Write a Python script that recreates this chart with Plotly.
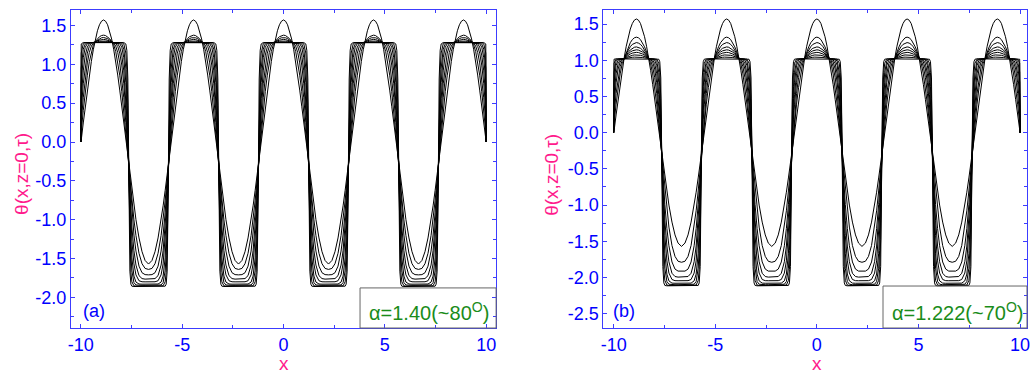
import plotly.graph_objects as go

# Profile abscissae: distance from a crest, from the crest (0) to the trough (2.22)
offsets = [0.0, 0.1, 0.2, 0.3, 0.4, 0.5, 0.6, 0.7, 0.8, 0.9, 1.0, 1.1, 1.15, 1.2,
           1.25, 1.3, 1.35, 1.4, 1.5, 1.6, 1.75, 1.9, 2.05, 2.22]
# Crest positions along x
peaks_x = [-8.88, -4.44, 0.0, 4.44, 8.88]
# Boundary values of theta at both walls
edge_x = [-10.0, 10.0]
edge_theta = [0.0, 0.0]

# Panel (a): alpha = 1.40, successive time snapshots of theta over one half period
theta_a = [
    [1.571, 1.555, 1.509, 1.432, 1.326, 1.194, 1.038, 0.862, 0.668, 0.461, 0.245, 0.024, -0.087, -0.198,
     -0.307, -0.416, -0.521, -0.625, -0.822, -1.000, -1.235, -1.412, -1.525, -1.571],
    [1.375, 1.370, 1.355, 1.330, 1.295, 1.253, 1.166, 1.034, 0.860, 0.648, 0.404, 0.131, -0.014, -0.163,
     -0.315, -0.472, -0.618, -0.757, -1.003, -1.204, -1.433, -1.567, -1.627, -1.640],
    [1.345, 1.341, 1.331, 1.314, 1.290, 1.274, 1.235, 1.153, 1.018, 0.823, 0.569, 0.252, 0.072, -0.120,
     -0.326, -0.544, -0.736, -0.912, -1.197, -1.404, -1.598, -1.683, -1.707, -1.710],
    [1.320, 1.318, 1.311, 1.301, 1.286, 1.279, 1.268, 1.230, 1.144, 0.990, 0.749, 0.401, 0.183, -0.062,
     -0.340, -0.638, -0.885, -1.094, -1.399, -1.584, -1.720, -1.758, -1.765, -1.765],
    [1.300, 1.299, 1.296, 1.290, 1.283, 1.280, 1.278, 1.265, 1.222, 1.119, 0.915, 0.561, 0.312, 0.009,
     -0.359, -0.749, -1.046, -1.277, -1.569, -1.710, -1.786, -1.799, -1.800, -1.800],
    [1.290, 1.289, 1.288, 1.285, 1.282, 1.280, 1.280, 1.278, 1.266, 1.219, 1.085, 0.766, 0.493, 0.119,
     -0.390, -0.913, -1.259, -1.492, -1.725, -1.803, -1.828, -1.830, -1.830, -1.830],
    [1.285, 1.285, 1.284, 1.283, 1.281, 1.280, 1.280, 1.280, 1.278, 1.263, 1.195, 0.951, 0.683, 0.251,
     -0.429, -1.092, -1.458, -1.659, -1.809, -1.840, -1.845, -1.845, -1.845, -1.845],
    [1.280, 1.280, 1.280, 1.280, 1.280, 1.280, 1.280, 1.280, 1.280, 1.279, 1.264, 1.145, 0.936, 0.472,
     -0.504, -1.354, -1.679, -1.799, -1.851, -1.855, -1.855, -1.855, -1.855, -1.855],
    [1.280, 1.280, 1.280, 1.280, 1.280, 1.280, 1.280, 1.280, 1.280, 1.280, 1.280, 1.262, 1.181, 0.811,
     -0.659, -1.662, -1.830, -1.856, -1.860, -1.860, -1.860, -1.860, -1.860, -1.860],
]

# Panel (b): alpha = 1.222
theta_b = [
    [1.571, 1.555, 1.509, 1.432, 1.326, 1.194, 1.038, 0.862, 0.668, 0.461, 0.245, 0.024, -0.087, -0.198,
     -0.307, -0.416, -0.521, -0.625, -0.822, -1.000, -1.235, -1.412, -1.525, -1.571],
    [1.320, 1.311, 1.286, 1.244, 1.186, 1.115, 1.030, 0.952, 0.812, 0.624, 0.394, 0.130, -0.012, -0.159,
     -0.311, -0.487, -0.650, -0.805, -1.079, -1.304, -1.559, -1.709, -1.776, -1.790],
    [1.245, 1.238, 1.220, 1.188, 1.145, 1.091, 1.027, 0.997, 0.913, 0.762, 0.540, 0.247, 0.075, -0.113,
     -0.317, -0.568, -0.792, -0.993, -1.324, -1.562, -1.786, -1.884, -1.912, -1.915],
    [1.185, 1.180, 1.166, 1.143, 1.111, 1.072, 1.025, 1.015, 0.977, 0.879, 0.690, 0.385, 0.185, -0.051,
     -0.324, -0.673, -0.963, -1.209, -1.566, -1.783, -1.942, -1.987, -1.995, -1.995],
    [1.145, 1.141, 1.131, 1.114, 1.089, 1.059, 1.024, 1.019, 1.007, 0.955, 0.815, 0.527, 0.307, 0.024,
     -0.333, -0.797, -1.151, -1.424, -1.771, -1.939, -2.028, -2.044, -2.045, -2.045],
    [1.110, 1.107, 1.100, 1.087, 1.070, 1.048, 1.023, 1.020, 1.018, 1.002, 0.928, 0.697, 0.472, 0.137,
     -0.348, -0.977, -1.395, -1.673, -1.953, -2.047, -2.078, -2.080, -2.080, -2.080],
    [1.075, 1.074, 1.069, 1.061, 1.051, 1.037, 1.022, 1.020, 1.020, 1.017, 0.988, 0.836, 0.635, 0.269,
     -0.368, -1.179, -1.627, -1.872, -2.056, -2.093, -2.100, -2.100, -2.100, -2.100],
    [1.045, 1.044, 1.042, 1.039, 1.034, 1.028, 1.021, 1.020, 1.020, 1.020, 1.016, 0.960, 0.830, 0.475,
     -0.407, -1.478, -1.889, -2.040, -2.105, -2.110, -2.110, -2.110, -2.110, -2.110],
    [1.025, 1.025, 1.024, 1.024, 1.023, 1.022, 1.020, 1.020, 1.020, 1.020, 1.020, 1.015, 0.981, 0.756,
     -0.490, -1.847, -2.075, -2.110, -2.115, -2.115, -2.115, -2.115, -2.115, -2.115],
]

x_ticks = [-10, -5, 0, 5, 10]
y_ticks_a = [-2.0, -1.5, -1.0, -0.5, 0.0, 0.5, 1.0, 1.5]
y_ticks_b = [-2.5, -2.0, -1.5, -1.0, -0.5, 0.0, 0.5, 1.0, 1.5]

BLUE = "#0000ff"
AXIS_BLUE = "#3c3cff"
PINK = "#ff1a8c"
GREEN = "#1a8c1a"
FONT = "Liberation Sans, Arial, sans-serif"


def build_curve(vals):
    """Lay the half-period profile out on both sides of every crest."""
    xs, ys = [], []
    for p in peaks_x:
        for s, v in zip(offsets[::-1], vals[::-1]):
            xs.append(p - s)
            ys.append(v)
        for s, v in zip(offsets[1:], vals[1:]):
            xs.append(p + s)
            ys.append(v)
    pts = [(x, y) for x, y in zip(xs, ys) if edge_x[0] < x < edge_x[1]]
    return ([edge_x[0]] + [p[0] for p in pts] + [edge_x[1]],
            [edge_theta[0]] + [p[1] for p in pts] + [edge_theta[1]])


fig = go.Figure()
for vals in theta_a:
    cx, cy = build_curve(vals)
    fig.add_trace(go.Scatter(x=cx, y=cy, mode="lines", xaxis="x", yaxis="y",
                             line=dict(color="black", width=1), hoverinfo="skip"))
for vals in theta_b:
    cx, cy = build_curve(vals)
    fig.add_trace(go.Scatter(x=cx, y=cy, mode="lines", xaxis="x2", yaxis="y2",
                             line=dict(color="black", width=1), hoverinfo="skip"))

W, H = 1030, 373
y_dom = [1 - 328 / H, 1 - 10 / H]


def xax(domain, rng, anchor):
    return dict(domain=domain, range=rng, anchor=anchor,
                tickvals=x_ticks, ticktext=[str(t) for t in x_ticks],
                ticks="inside", ticklen=4, tickcolor=AXIS_BLUE, tickwidth=1,
                minor=dict(dtick=2.5, tick0=0, ticks="inside", ticklen=3, tickcolor=AXIS_BLUE),
                showline=True, linecolor=AXIS_BLUE, linewidth=1, mirror="allticks",
                showgrid=False, zeroline=False, ticklabeloverflow="allow",
                tickfont=dict(family=FONT, size=18, color=BLUE))


def yax(rng, ticks, anchor):
    return dict(domain=y_dom, range=rng, anchor=anchor,
                tickvals=ticks, ticktext=[f"{t:.1f}" for t in ticks],
                ticks="inside", ticklen=4, tickcolor=AXIS_BLUE, tickwidth=1,
                minor=dict(dtick=0.25, tick0=0, ticks="inside", ticklen=3, tickcolor=AXIS_BLUE),
                showline=True, linecolor=AXIS_BLUE, linewidth=1, mirror="allticks",
                showgrid=False, zeroline=False, ticklabeloverflow="allow",
                tickfont=dict(family=FONT, size=18, color=BLUE))


fig.update_layout(
    width=W, height=H, margin=dict(l=0, r=0, t=0, b=0),
    paper_bgcolor="white", plot_bgcolor="white", showlegend=False,
    xaxis=xax([68.3 / W, 496 / W], [-10.49, 10.49], "y"),
    yaxis=yax([-2.394, 1.699], y_ticks_a, "x"),
    xaxis2=xax([604 / W, 1.0], [-10.5, 10.34], "y2"),
    yaxis2=yax([-2.698, 1.695], y_ticks_b, "x2"),
)

ytitle = "θ(x,z=0,τ)"
annotations = [
    dict(text=ytitle, xref="paper", yref="paper", x=18 / W, y=1 - 174 / H, textangle=-90,
         showarrow=False, xanchor="center", yanchor="middle", font=dict(family=FONT, size=19, color=PINK)),
    dict(text=ytitle, xref="paper", yref="paper", x=551 / W, y=1 - 175 / H, textangle=-90,
         showarrow=False, xanchor="center", yanchor="middle", font=dict(family=FONT, size=19, color=PINK)),
    dict(text="x", xref="x", yref="paper", x=0, y=1 - 363 / H, showarrow=False,
         xanchor="center", yanchor="middle", font=dict(family=FONT, size=19, color=PINK)),
    dict(text="x", xref="x2", yref="paper", x=0, y=1 - 363 / H, showarrow=False,
         xanchor="center", yanchor="middle", font=dict(family=FONT, size=19, color=PINK)),
    dict(text="(a)", xref="x domain", yref="y domain", x=0.054, y=0.052, showarrow=False,
         xanchor="center", yanchor="middle", font=dict(family=FONT, size=18, color=BLUE)),
    dict(text="(b)", xref="x2 domain", yref="y2 domain", x=0.049, y=0.053, showarrow=False,
         xanchor="center", yanchor="middle", font=dict(family=FONT, size=18, color=BLUE)),
    dict(text="α=1.40(~80<sup>O</sup>)",
         xref="x domain", yref="y domain", x=0.841, y=0.053, showarrow=False,
         xanchor="center", yanchor="middle", font=dict(family=FONT, size=20, color=GREEN)),
    dict(text="α=1.222(~70<sup>O</sup>)",
         xref="x2 domain", yref="y2 domain", x=0.836, y=0.051, showarrow=False,
         xanchor="center", yanchor="middle", font=dict(family=FONT, size=20, color=GREEN)),
]
fig.update_layout(annotations=annotations)

fig.update_layout(shapes=[
    dict(type="rect", xref="x domain", yref="y domain", x0=0.680, x1=1.0, y0=0.0, y1=0.126,
         line=dict(color="#666666", width=1), layer="above"),
    dict(type="rect", xref="x2 domain", yref="y2 domain", x0=0.660, x1=1.0, y0=0.0, y1=0.132,
         line=dict(color="#666666", width=1), layer="above"),
])

fig.write_html("out.html")
